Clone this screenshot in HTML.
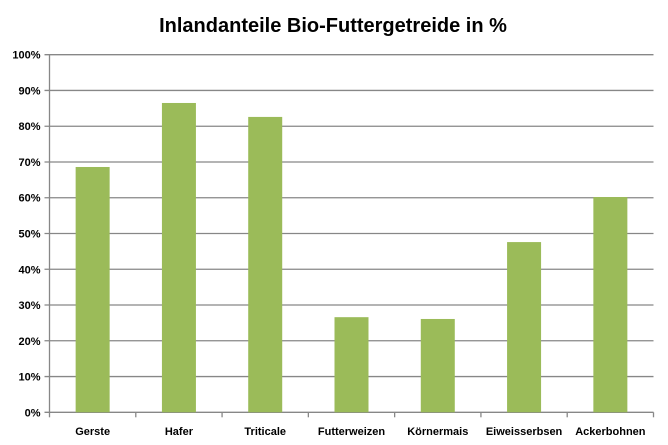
<!DOCTYPE html>
<html><head><meta charset="utf-8"><style>
html,body{margin:0;padding:0;background:#fff;}
svg{display:block;font-family:"Liberation Sans",sans-serif;}
</style></head><body>
<svg id="chart" width="668" height="445" xmlns="http://www.w3.org/2000/svg">
<text x="333" y="32" text-anchor="middle" font-size="20" font-weight="bold" fill="#000">Inlandanteile Bio-Futtergetreide in %</text>
<g id="grid"></g><g id="bars"></g><g id="axes"></g>
</svg>
<script>
const categories=["Gerste","Hafer","Triticale","Futterweizen","Körnermais","Eiweisserbsen","Ackerbohnen"];
const values=[68.6,86.5,82.6,26.6,26.1,47.6,60.2];
const yTicks=[0,10,20,30,40,50,60,70,80,90,100];
const NS="http://www.w3.org/2000/svg";
const L=49.5,R=653.5,T=54.7,B=412.3,MAX=100;
const y=v=>B-(v/MAX)*(B-T);
const cw=(R-L)/categories.length;
const x=i=>L+i*cw;
function mk(tag,attrs,parent){const e=document.createElementNS(NS,tag);for(const k in attrs)e.setAttribute(k,attrs[k]);parent.appendChild(e);return e;}
const grid=document.getElementById('grid'),bars=document.getElementById('bars'),axes=document.getElementById('axes');
yTicks.forEach(t=>{
  const ln=mk('line',{x1:L-5,x2:R,y1:y(t),y2:y(t),stroke:'#878787','stroke-width':1.3},grid);
  
  
  const tx=mk('text',{x:L-9,y:y(t)+4,'text-anchor':'end','font-size':11,'font-weight':'bold',fill:'#000'},axes);
  tx.textContent=t+'%';
  
  
});
const ax=mk('line',{x1:L,x2:L,y1:T,y2:B,stroke:'#878787','stroke-width':1.3},axes);


for(let i=0;i<=categories.length;i++){
  const tk=mk('line',{x1:x(i),x2:x(i),y1:B,y2:B+5,stroke:'#878787','stroke-width':1.3},axes);
  
  
}
const bw=34;
categories.forEach((c,i)=>{
  const cx=x(i)+cw/2;
  const r=mk('rect',{x:cx-bw/2,y:y(values[i]),width:bw,height:B-y(values[i]),fill:'#9bbb59'},bars);
  
  
  const t=mk('text',{x:cx,y:435,'text-anchor':'middle','font-size':11,'font-weight':'bold',fill:'#000'},axes);
  t.textContent=c;
  
  
});
</script>
</body></html>
